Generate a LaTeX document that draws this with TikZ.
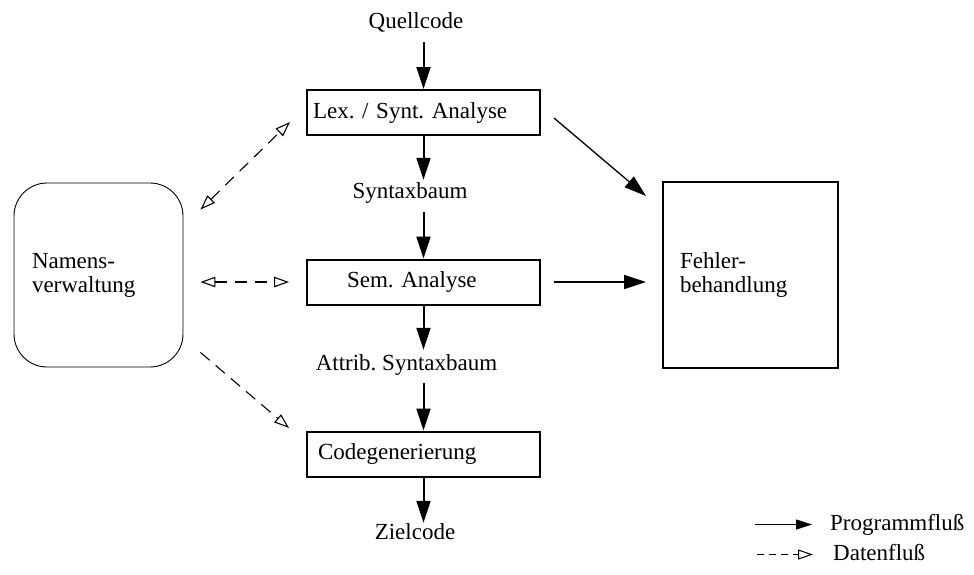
\documentclass[tikz,border=0pt]{standalone}
\usepackage{fontspec}
\setmainfont{Liberation Serif}
\usetikzlibrary{arrows.meta,calc}
\frenchspacing
\begin{document}
\begin{tikzpicture}[x=1pt,y=-1pt,
  font=\fontsize{23pt}{24pt}\selectfont,
  solidtri/.tip={Triangle[length=22pt,width=14pt]},
  opentri/.tip={Triangle[open,length=15pt,width=10.5pt]},
  smalltri/.tip={Triangle[length=16pt,width=10pt]},
  smallopen/.tip={Triangle[open,length=15pt,width=10pt]},
  box/.style={draw,line width=2pt,minimum width=233pt,minimum height=45pt,inner ysep=0pt,align=left},
  lbl/.style={inner sep=0pt,anchor=base,text height=16pt,text depth=5pt},
  flow/.style={line width=2pt,-solidtri},
  data/.style={line width=1.1pt,dash pattern=on 12pt off 8pt}]
\useasboundingbox (0,0) rectangle (974,574);

% compiler phases
\node[lbl] (quell) at (416,28) {Quellcode};
\node[box,inner xsep=6pt,text width=221pt] (lex) at (423.5,112.5) {Lex. / Synt. Analyse};
\node[lbl] (stx) at (410,198) {Syntaxbaum};
\node[box,inner xsep=40pt,text width=153pt] (sem) at (423.5,282) {Sem. Analyse};
\node[lbl] (attr) at (406.5,370) {Attrib. Syntaxbaum};
\node[box,inner xsep=11pt,text width=211pt] (code) at (423.5,454) {Codegenerierung};
\node[lbl] (ziel) at (415,539) {Zielcode};

% side components
\node[draw,line width=0.9pt,rounded corners=33pt,minimum width=169pt,minimum height=184pt,
      inner xsep=18pt,text width=133pt,align=left] (nam) at (98.5,275) {Namens-\\verwaltung};
\node[draw,line width=2pt,minimum width=175pt,minimum height=186pt,
      inner xsep=17pt,text width=141pt,align=left] (fehler) at (750.5,275) {Fehler-\\behandlung};

% program flow
\draw[flow,shorten <=9pt] (lex.north |- quell.south) -- (lex.north);
\draw[flow,shorten >=2pt] (lex.south) -- (lex.south |- stx.north);
\draw[flow,shorten <=9pt] (sem.north |- stx.south) -- (sem.north);
\draw[flow,shorten >=4pt] (sem.south) -- (sem.south |- attr.north);
\draw[flow,shorten <=8pt] (code.north |- attr.south) -- (code.north);
\draw[flow] (code.south) -- (code.south |- ziel.north);
\draw[line width=1.3pt,-solidtri] ($(lex.east)+(13,5.5)$) -- ($(fehler.north west)+(-16,15)$);
\draw[line width=1.8pt,-solidtri] ($(sem.east)+(13,0)$) -- ($(fehler.west |- sem.east)+(-16,0)$);

% data flow
\draw[data,opentri-opentri] ($(nam.north east)+(17,27)$) -- ($(lex.west)+(-16,9.5)$);
\draw[data,opentri-opentri] ($(nam.east |- sem.west)+(17,0)$) -- ($(sem.west)+(-17,0)$);
\draw[data,-opentri] ($(nam.south east)+(17,-15)$) -- ($(code.west)+(-17,-26)$);

% legend
\node[lbl,anchor=base west] (prog) at (830,530) {Programmfluß};
\node[lbl,anchor=base west] (daten) at (833,560) {Datenfluß};
\coordinate (pfrom) at (755,524.5);
\coordinate (dfrom) at (757,554.5);
\draw[line width=1pt,-smalltri,shorten >=18pt] (pfrom) -- (prog.west);
\draw[line width=1pt,dash pattern=on 7pt off 5pt,-smallopen,shorten >=20pt] (dfrom) -- (daten.west);
\end{tikzpicture}
\end{document}
